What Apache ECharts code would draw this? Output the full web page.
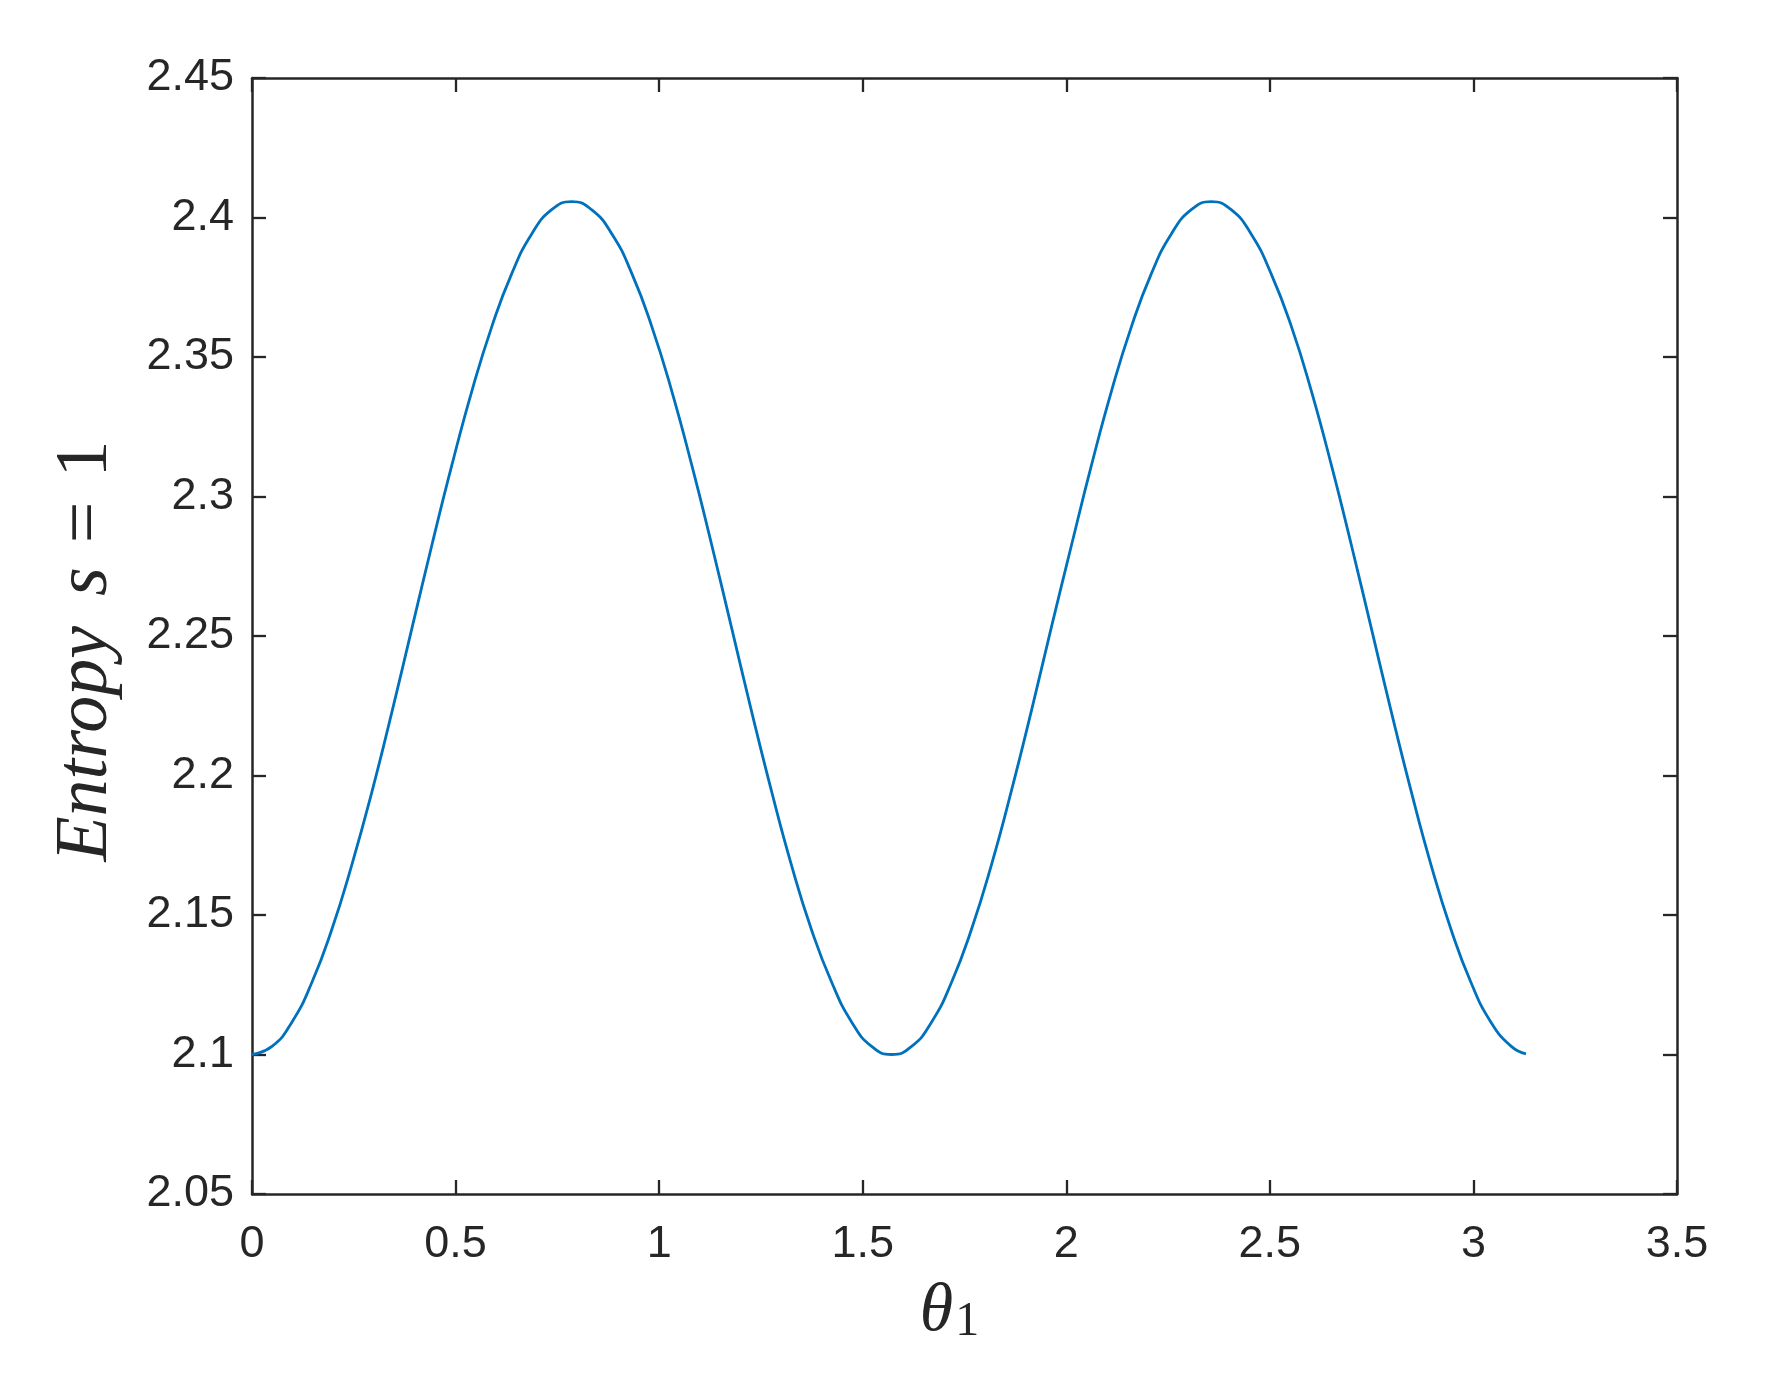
<!DOCTYPE html>
<html>
<head>
<meta charset="utf-8">
<title>Entropy</title>
<script src="https://cdn.jsdelivr.net/npm/echarts@6/dist/echarts.min.js"></script>
<style>
  html, body { margin: 0; padding: 0; background: #fff; }
  #chart { width: 1773px; height: 1381px; }
</style>
</head>
<body>
<div id="chart"></div>
<script>
// values
const theta = [
  0, 0.049, 0.098, 0.147, 0.196, 0.245, 0.295, 0.344, 0.393, 0.442, 0.491, 0.540, 0.589, 0.638, 0.687, 0.736,
  0.785, 0.834, 0.884, 0.933, 0.982, 1.031, 1.080, 1.129, 1.178, 1.227, 1.276, 1.325, 1.374, 1.424, 1.473, 1.522,
  1.571, 1.620, 1.669, 1.718, 1.767, 1.816, 1.865, 1.914, 1.963, 2.013, 2.062, 2.111, 2.160, 2.209, 2.258, 2.307,
  2.356, 2.405, 2.454, 2.503, 2.553, 2.602, 2.651, 2.700, 2.749, 2.798, 2.847, 2.896, 2.945, 2.994, 3.043, 3.093,
  3.129
];
const entropy = [
  2.1000, 2.1029, 2.1116, 2.1258, 2.1448, 2.1679, 2.1944, 2.2230, 2.2529, 2.2827, 2.3113, 2.3378, 2.3609, 2.3799, 2.3941, 2.4028,
  2.4057, 2.4028, 2.3941, 2.3799, 2.3609, 2.3378, 2.3113, 2.2827, 2.2529, 2.2230, 2.1944, 2.1679, 2.1448, 2.1258, 2.1116, 2.1029,
  2.1000, 2.1029, 2.1116, 2.1258, 2.1448, 2.1679, 2.1944, 2.2230, 2.2529, 2.2827, 2.3113, 2.3378, 2.3609, 2.3799, 2.3941, 2.4028,
  2.4057, 2.4028, 2.3941, 2.3799, 2.3609, 2.3378, 2.3113, 2.2827, 2.2529, 2.2230, 2.1944, 2.1679, 2.1448, 2.1258, 2.1116, 2.1029,
  2.1002
];
const xRange = [0, 3.5];
const yRange = [2.05, 2.45];

const axisColor = "#262626";
const tickFont = "Liberation Sans";
const mathFont = "Liberation Serif";

let chart = echarts.init(document.getElementById("chart"));

let points = [];
theta.forEach((t, i) => {
  points.push([t, entropy[i]]);
});

function boxAxis(extra) {
  return Object.assign({
    type: "value",
    axisLine: { show: true, onZero: false, lineStyle: { color: axisColor, width: 2.5 } },
    axisTick: { show: true, inside: true, length: 14, lineStyle: { color: axisColor, width: 2.3 } },
    splitLine: { show: false },
  }, extra);
}

let option = {
  animation: false,
  backgroundColor: "#fff",
  grid: { left: 252, right: 96, top: 78, bottom: 187 },
  xAxis: [
    boxAxis({
      min: xRange[0], max: xRange[1], interval: 0.5,
      position: "bottom",
      axisLabel: { color: axisColor, fontFamily: tickFont, fontSize: 45, margin: 28 },
      name: "{t|θ}{s|1}",
      nameLocation: "middle",
      nameGap: 76,
      nameTextStyle: {
        padding: [0, 30, 0, 0],
        rich: {
          t: { fontFamily: mathFont, fontStyle: "italic", fontSize: 68, color: axisColor, verticalAlign: "bottom", lineHeight: 76 },
          s: { fontFamily: mathFont, fontSize: 48, color: axisColor, verticalAlign: "bottom", lineHeight: 62, padding: [0, 0, 0, 2] },
        },
      },
    }),
    boxAxis({
      min: xRange[0], max: xRange[1], interval: 0.5,
      position: "top",
      axisLabel: { show: false },
    }),
  ],
  yAxis: [
    boxAxis({
      min: yRange[0], max: yRange[1], interval: 0.05,
      position: "left",
      axisLabel: { color: axisColor, fontFamily: tickFont, fontSize: 45, margin: 18 },
      name: "{i|Entropy}{s|s}{n|=}{o|1}",
      nameLocation: "middle",
      nameGap: 128,
      nameTextStyle: {
        padding: [0, 30, 0, 0],
        rich: {
          i: { fontFamily: mathFont, fontStyle: "italic", fontSize: 74, color: axisColor },
          s: { fontFamily: mathFont, fontStyle: "italic", fontSize: 74, color: axisColor, padding: [0, 0, 0, 30] },
          n: { fontFamily: mathFont, fontSize: 74, color: axisColor, padding: [0, 0, 0, 24] },
          o: { fontFamily: mathFont, fontSize: 74, color: axisColor, padding: [0, 0, 0, 24] },
        },
      },
    }),
    boxAxis({
      min: yRange[0], max: yRange[1], interval: 0.05,
      position: "right",
      axisLabel: { show: false },
    }),
  ],
  series: [
    {
      type: "line",
      data: points,
      showSymbol: false,
      smooth: 0.5,
      lineStyle: { color: "#0072BD", width: 2.8 },
    },
  ],
};
chart.setOption(option);
</script>
</body>
</html>
